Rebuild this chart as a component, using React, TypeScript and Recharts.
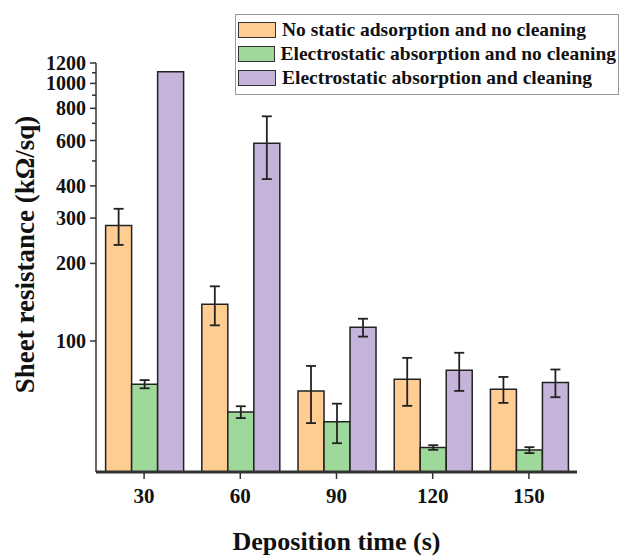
import { Bar, BarChart, ErrorBar, Label, Legend, XAxis, YAxis } from "recharts";

const FONT = '"Liberation Serif", "Times New Roman", serif';

// deposition time (s)
const times = ["30", "60", "90", "120", "150"];

// sheet resistance (kΩ/sq)
const noStatic = [281, 139, 64, 71, 65];
const noStaticErr = [45, 24, 16, 15, 7.5];
const electroNoClean = [68, 53, 48.6, 38.6, 37.7];
const electroNoCleanErr = [2.5, 2.8, 8.5, 0.8, 1];
const electroClean = [1110, 585, 113, 77, 69];
const electroCleanErr = [0, 160, 9, 13, 8.5];

const yTicks = [100, 200, 300, 400, 500, 600, 700, 800, 900, 1000, 1100, 1200];
const majorTicks = [100, 200, 300, 400, 600, 800, 1000, 1200];

const SERIES = [
  { key: "noStatic", name: "No static adsorption and no cleaning", color: "#FFCC91" },
  { key: "electroNoClean", name: "Electrostatic absorption and no cleaning", color: "#9ED99B" },
  { key: "electroClean", name: "Electrostatic absorption and cleaning", color: "#C5B3D9" },
];

const data = times.map((t, i) => ({
  time: t,
  noStatic: noStatic[i],
  noStaticErr: noStaticErr[i],
  electroNoClean: electroNoClean[i],
  electroNoCleanErr: electroNoCleanErr[i],
  electroClean: electroClean[i],
  electroCleanErr: electroCleanErr[i],
}));

function YTick({ x, y, payload }: any) {
  const major = majorTicks.includes(payload.value);
  return (
    <g>
      <line
        x1={x}
        x2={x - (major ? 6 : 4)}
        y1={y}
        y2={y}
        stroke="#333"
        strokeWidth={1.5}
      />
      {major && (
        <text
          x={x - 10}
          y={y}
          dy="0.35em"
          textAnchor="end"
          fontFamily={FONT}
          fontWeight="bold"
          fontSize={20}
          fill="#111"
        >
          {payload.value}
        </text>
      )}
    </g>
  );
}

function LegendBox() {
  return (
    <div
      style={{
        border: "1px solid #9a9a9a",
        background: "#fff",
        padding: "3px 2px 4px 2px",
        fontFamily: FONT,
      }}
    >
      {SERIES.map((s) => (
        <div
          key={s.key}
          style={{ display: "flex", alignItems: "center", height: 24 }}
        >
          <span
            style={{
              display: "inline-block",
              width: 36,
              height: 14,
              background: s.color,
              border: "1.5px solid #333",
              marginRight: 6,
            }}
          />
          <span
            style={{
              fontSize: 19.5,
              fontWeight: "bold",
              color: "#111",
              whiteSpace: "nowrap",
            }}
          >
            {s.name}
          </span>
        </div>
      ))}
    </div>
  );
}

export default function App() {
  return (
    <div style={{ position: "absolute", left: 0, top: 0 }}>
      <BarChart
        width={622}
        height={556}
        data={data}
        margin={{ top: 63, right: 45, bottom: 0, left: 0 }}
        barCategoryGap="10%"
        barGap={0}
      >
        <XAxis
          dataKey="time"
          height={84}
          tickSize={7}
          tickMargin={9}
          tickLine={{ stroke: "#333", strokeWidth: 1.5 }}
          axisLine={{ stroke: "#333", strokeWidth: 3 }}
          tick={{ fontFamily: FONT, fontWeight: "bold", fontSize: 21, fill: "#111" }}
        >
          <Label
            value="Deposition time (s)"
            position="insideBottom"
            offset={6}
            style={{ fontFamily: FONT, fontWeight: "bold", fontSize: 26, fill: "#111" }}
          />
        </XAxis>
        <YAxis
          type="number"
          scale="log"
          domain={[31, 1200]}
          ticks={yTicks}
          interval={0}
          allowDataOverflow
          width={96}
          tickSize={0}
          tickMargin={0}
          tickLine={false}
          tick={<YTick />}
          axisLine={{ stroke: "#333", strokeWidth: 1.5 }}
        >
          <Label
            value="Sheet resistance (kΩ/sq)"
            angle={-90}
            position="insideLeft"
            offset={24}
            dy={-13}
            style={{
              textAnchor: "middle",
              fontFamily: FONT,
              fontWeight: "bold",
              fontSize: 27,
              fill: "#111",
            }}
          />
        </YAxis>
        <Legend
          layout="vertical"
          align="center"
          verticalAlign="middle"
          content={() => <LegendBox />}
          wrapperStyle={{ top: 14, left: 235, width: 384 }}
        />
        {SERIES.map((s) => (
          <Bar
            key={s.key}
            dataKey={s.key}
            name={s.name}
            fill={s.color}
            stroke="#222"
            strokeWidth={1.5}
            isAnimationActive={false}
          >
            <ErrorBar
              dataKey={`${s.key}Err`}
              width={5}
              stroke="#222"
              strokeWidth={1.8}
            />
          </Bar>
        ))}
      </BarChart>
    </div>
  );
}
